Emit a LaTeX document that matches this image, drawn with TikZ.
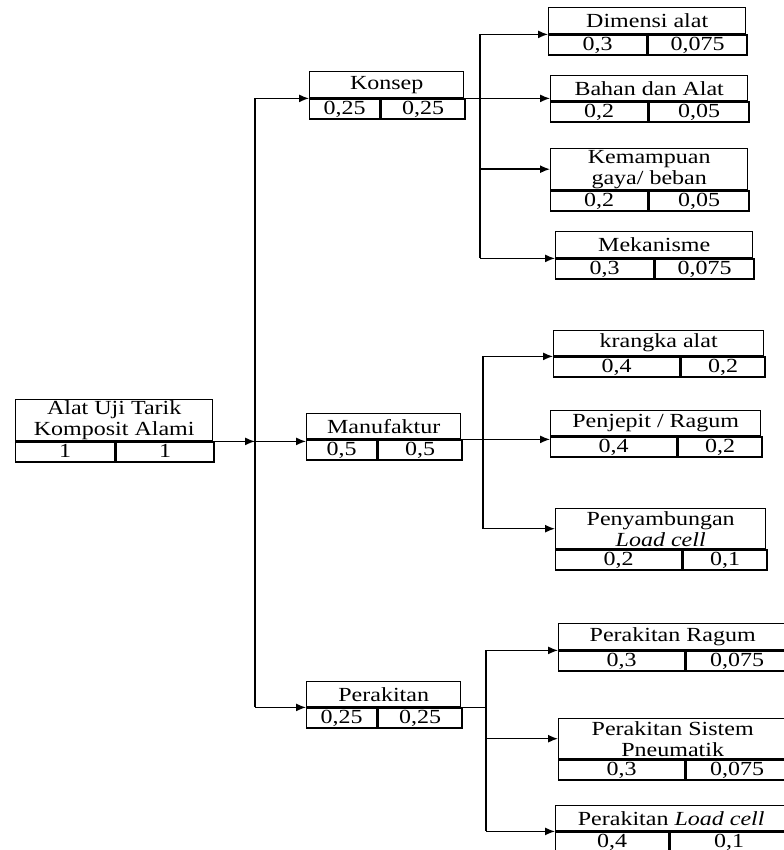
\documentclass[tikz,border=0pt]{standalone}
\usepackage{fontspec}
\setmainfont{Liberation Serif}[FakeStretch=1.2]
\usetikzlibrary{arrows.meta,positioning}
\tikzstyle{head} = [rectangle, draw, line width=0.7pt,
    inner sep=0pt, align=center, font=\fontsize{10}{10.5}\selectfont]
\tikzstyle{cell} = [rectangle, draw, line width=0.7pt,
    inner sep=0pt, minimum height=10pt, text height=6.8pt, text depth=1.4pt]
\tikzstyle{line} = [draw, -{Latex[length=5pt,width=4pt]}, line width=0.7pt]
\tikzstyle{bus} = [draw, line width=0.7pt]
% box: name, left, top, width, head height, column split, title, value 1, value 2
\newcommand{\wbox}[9]{%
    \node [head, anchor=north west, minimum width=#4*0.5pt,
        minimum height=#5*0.5pt] (#1) at (#2,#3) {#7};
    \node [cell, anchor=north west, minimum width=(#6-#2)*0.5pt]
        (#1a) at (#1.south west) {#8};
    \node [cell, anchor=north west, minimum width=(#2+#4-#6)*0.5pt]
        (#1b) at (#1a.north east) {#9};}

\begin{document}
\begin{tikzpicture}[x=0.5pt, y=-0.5pt]
    \useasboundingbox (0,0) rectangle (783,850);
    % Place nodes
    \wbox{root}{15}{399}{197}{41}{114}{Alat Uji Tarik\\Komposit Alami}{1}{1}
    \wbox{konsep}{309}{71}{154}{26}{379}{Konsep}{0,25}{0,25}
    \wbox{manuf}{306}{413}{154}{25}{376}{Manufaktur}{0,5}{0,5}
    \wbox{perak}{306}{681}{154}{25}{376}{Perakitan}{0,25}{0,25}

    \wbox{dimensi}{548}{7}{197}{26}{646}{Dimensi alat}{0,3}{0,075}
    \wbox{bahan}{550}{75}{197}{25}{647}{Bahan dan Alat}{0,2}{0,05}
    \wbox{kemampuan}{550}{148}{197}{41}{647}{Kemampuan\\gaya/ beban}{0,2}{0,05}
    \wbox{mekanisme}{555}{231}{197}{26}{653}{Mekanisme}{0,3}{0,075}

    \wbox{krangka}{553}{330}{210}{25}{679}{krangka alat}{0,4}{0,2}
    \wbox{penjepit}{550}{410}{210}{25}{676}{Penjepit / Ragum}{0,4}{0,2}
    \wbox{sambung}{555}{508}{210}{40}{681}{Penyambungan\\\textit{Load cell}}{0,2}{0,1}

    \wbox{ragum}{558}{623}{228}{26}{684}{Perakitan Ragum}{0,3}{0,075}
    \wbox{sistem}{558}{718}{228}{40}{684}{Perakitan Sistem\\Pneumatik}{0,3}{0,075}
    \wbox{loadcell}{555}{805}{231}{25}{668}{Perakitan \textit{Load cell}}{0,4}{0,1}

    \coordinate (tx) at (255,0);
    \coordinate (trunk) at (root.south east -| tx);
    \coordinate (kbus) at (480,0);
    \coordinate (mbus) at (483,0);
    \coordinate (pbus) at (486,0);

    % Level 1
    \path [line] (root.south east) -- (trunk);
    \path [bus] (trunk |- konsep.south west) -- (trunk |- perak.south west);
    \path [line] (trunk |- konsep.south west) -- (konsep.south west);
    \path [line] (trunk) -- (trunk -| manuf.west);
    \path [line] (trunk |- perak.south west) -- (perak.south west);

    % Konsep
    \path [line] (konsep.south east) -- (konsep.south east -| bahan.west);
    \path [bus] (kbus |- dimensi.south west) -- (kbus |- mekanisme.south west);
    \path [line] (kbus |- dimensi.south west) -- (dimensi.south west);
    \path [line] (kbus |- kemampuan.west) -- (kemampuan.west);
    \path [line] (kbus |- mekanisme.south west) -- (mekanisme.south west);

    % Manufaktur
    \path [line] (manuf.south east) -- (manuf.south east -| penjepit.west);
    \path [bus] (mbus |- krangka.south west) -- (mbus |- sambung.west);
    \path [line] (mbus |- krangka.south west) -- (krangka.south west);
    \path [line] (mbus |- sambung.west) -- (sambung.west);

    % Perakitan
    \path [bus] (perak.south east) -- (perak.south east -| pbus);
    \path [bus] (pbus |- ragum.south west) -- (pbus |- loadcell.south west);
    \path [line] (pbus |- ragum.south west) -- (ragum.south west);
    \path [line] (pbus |- sistem.west) -- (sistem.west);
    \path [line] (pbus |- loadcell.south west) -- (loadcell.south west);
\end{tikzpicture}
\end{document}
